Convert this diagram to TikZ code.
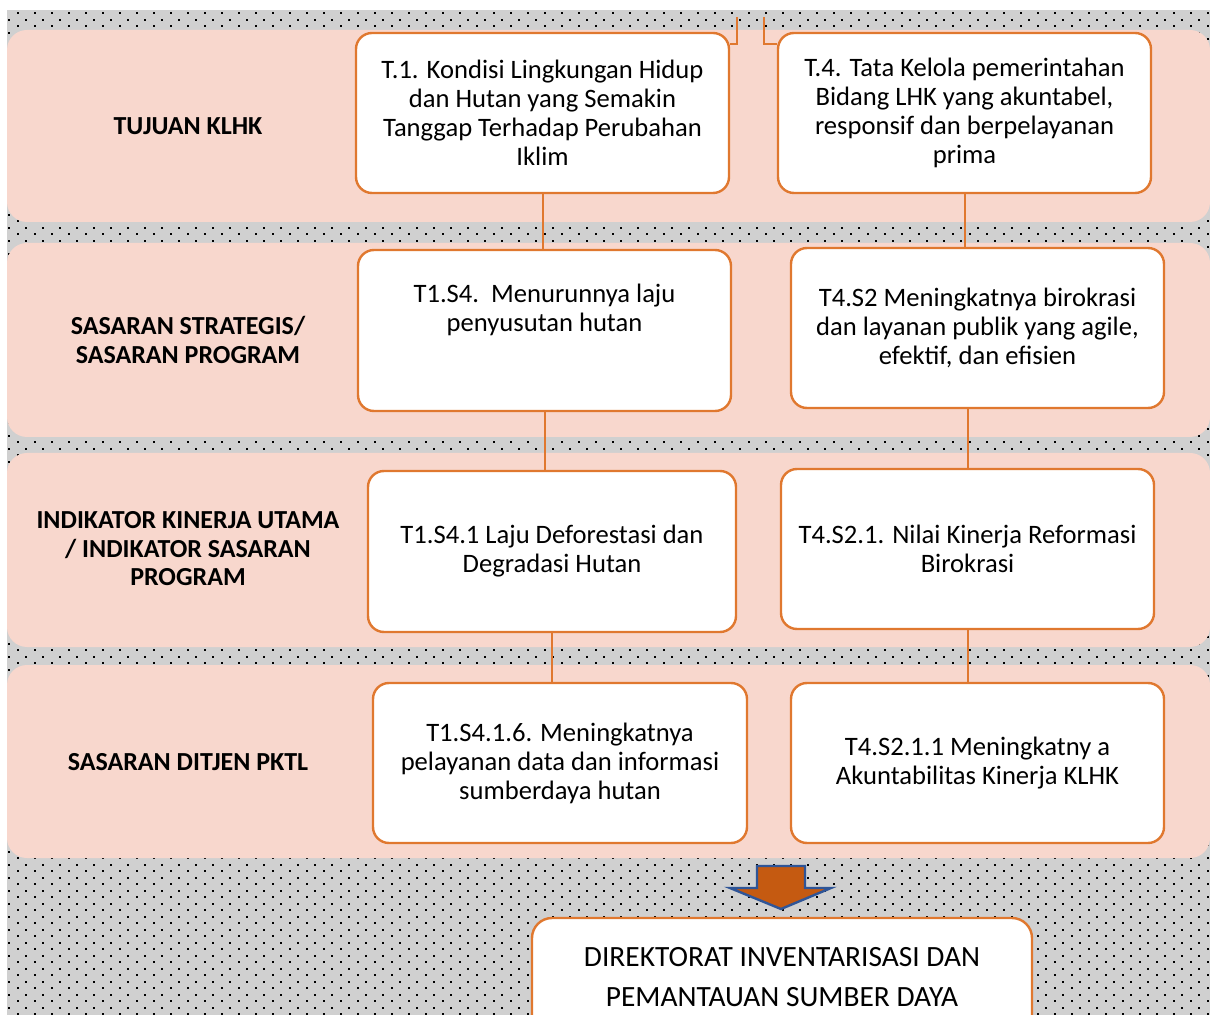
\documentclass[tikz,border=0pt]{standalone}
\usepackage{fontspec}
\setmainfont{Carlito}
\usepackage{tikz}
\usetikzlibrary{calc, patterns.meta}
\definecolor{bandpink}{HTML}{F8D7CD}
\definecolor{boxorange}{HTML}{E0782F}
\definecolor{dotgray}{HTML}{D0D0D0}
\definecolor{arrowfill}{HTML}{C55A11}
\definecolor{arrowblue}{HTML}{2F5597}

\tikzdeclarepattern{
  name=speckle,
  type=uncolored,
  bottom left={(0pt,0pt)},
  top right={(8.5pt,6.5pt)},
  tile size={(8.5pt,6.5pt)},
  code={
    \fill (0pt,0pt) rectangle (1pt,1pt);
    \fill (4.25pt,3.25pt) rectangle (5.25pt,4.25pt);
  }
}

\begin{document}
\begin{tikzpicture}[x=0.5pt, y=-0.5pt,
  band/.style={fill=bandpink, rounded corners=10pt},
  box/.style={rectangle, rounded corners=8pt, draw=boxorange, fill=white,
              line width=1.2pt, align=center, inner sep=2pt,
              font=\fontsize{13.3}{14.5}\selectfont,
              minimum width=186.5pt, minimum height=80pt},
  lvl/.style={align=center, font=\fontsize{13}{14.25}\selectfont\bfseries},
  link/.style={draw=boxorange, line width=1pt},
]
  \useasboundingbox (0,0) rectangle (1210,1015);
  \clip (0,0) rectangle (1210,1015);

  %% Background and level bands
  \fill[dotgray] (7,10) rectangle (1210,1015);
  \fill[pattern=speckle] (7,10) rectangle (1210,1015);
  \fill[band] (7,30) rectangle (1210,222);
  \fill[band] (7,243) rectangle (1210,437);
  \fill[band] (7,453) rectangle (1210,647);
  \fill[band] (7,665) rectangle (1210,858);

  %% Level labels
  \node[lvl] (lv1) at (188,126) {TUJUAN KLHK};
  \node[lvl] (lv2) at (188,340) {SASARAN STRATEGIS/\\SASARAN PROGRAM};
  \node[lvl] (lv3) at (188,549) {INDIKATOR KINERJA UTAMA\\/ INDIKATOR SASARAN\\PROGRAM};
  \node[lvl] (lv4) at (188,762) {SASARAN DITJEN PKTL};

  \coordinate (inL) at (737,17);
  \coordinate (inR) at (764,17);

  %% Left column -- T.1
  \node[box] (t1) at (542.5,113) {T.1. Kondisi Lingkungan Hidup\\dan Hutan yang Semakin\\Tanggap Terhadap Perubahan\\Iklim};
  \node[box, minimum height=80.5pt, text depth=23pt] (t1s4) at (544.5,330.5) {T1.S4.\ \ Menurunnya laju\\penyusutan hutan};
  \node[box, minimum width=184pt, minimum height=80.5pt] (t1s41) at (552,551.5) {T1.S4.1 Laju Deforestasi dan\\Degradasi Hutan};
  \node[box, minimum width=187pt] (t1s416) at (560,763) {T1.S4.1.6. Meningkatnya\\pelayanan data dan informasi\\sumberdaya hutan};

  %% Right column -- T.4
  \node[box] (t4) at (964.5,113) {T.4. Tata Kelola pemerintahan\\Bidang LHK yang akuntabel,\\responsif dan berpelayanan\\prima};
  \node[box] (t4s2) at (977.5,328) {T4.S2 Meningkatnya birokrasi\\dan layanan publik yang agile,\\efektif, dan efisien};
  \node[box] (t4s21) at (967.5,549) {T4.S2.1. Nilai Kinerja Reformasi\\Birokrasi};
  \node[box] (t4s211) at (977.5,763) {T4.S2.1.1 Meningkatny a\\Akuntabilitas Kinerja KLHK};

  %% Connectors
  \draw[link] (t1.south) -- (t1.south |- t1s4.north);
  \draw[link] (t1s4.south) -- (t1s4.south |- t1s41.north);
  \draw[link] (t1s41.south) -- (t1s41.south |- t1s416.north);
  \draw[link] (t4.south) -- (t4.south |- t4s2.north);
  \draw[link] (t4s21.north |- t4s2.south) -- (t4s21.north);
  \draw[link] (t4s21.south) -- (t4s21.south |- t4s211.north);
  \draw[link] (inL) |- ($(t1.north east)+(0,12)$);
  \draw[link] (inR) |- ($(t4.north west)+(0,12)$);

  %% Down arrow and unit box
  \draw[arrowblue, fill=arrowfill, line width=1.2pt, line join=miter]
    (757,866) -- (805,866) -- (805,888) -- (831,888) -- (781,909)
    -- (730,888) -- (757,888) -- cycle;
  \node[box, minimum width=250pt, minimum height=59pt, rounded corners=10pt,
        font=\fontsize{14.7}{20}\selectfont] (dir) at (782,977)
        {DIREKTORAT INVENTARISASI DAN\\PEMANTAUAN SUMBER DAYA};

\end{tikzpicture}
\end{document}
